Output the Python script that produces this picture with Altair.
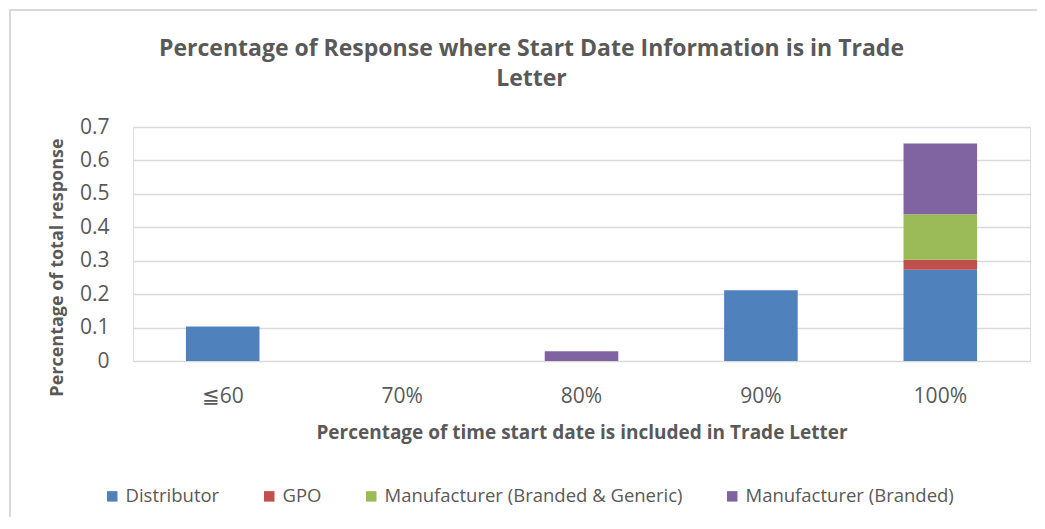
import altair as alt
import pandas as pd

categories = ["≦60", "70%", "80%", "90%", "100%"]
series = ["Distributor", "GPO", "Manufacturer (Branded & Generic)", "Manufacturer (Branded)"]
distributor = [0.103, 0.0, 0.0, 0.212, 0.273]
gpo = [0.0, 0.0, 0.0, 0.0, 0.030]
mfr_bg = [0.0, 0.0, 0.0, 0.0, 0.136]
mfr_b = [0.0, 0.0, 0.029, 0.0, 0.212]
colors = ["#4f81bd", "#c0504d", "#9bbb59", "#8064a2"]

rows = []
for si, (name, vals) in enumerate(zip(series, [distributor, gpo, mfr_bg, mfr_b])):
    for c, v in zip(categories, vals):
        rows.append({"cat": c, "series": name, "value": v, "order": si})
df = pd.DataFrame(rows)

FONT = "Open Sans"
GRAY = "#595959"

bars = alt.Chart(df).mark_bar().encode(
    x=alt.X("cat:N", sort=categories,
            scale=alt.Scale(paddingInner=0.59, paddingOuter=0.295),
            axis=alt.Axis(title="Percentage of time start date is included in Trade Letter",
                          labelAngle=0, labelFontSize=21, labelColor=GRAY, labelFont=FONT,
                          labelPadding=24, ticks=False, domain=False,
                          titleFont=FONT, titleFontSize=19, titleFontWeight="bold",
                          titleColor=GRAY, titlePadding=17)),
    y=alt.Y("value:Q", stack="zero",
            scale=alt.Scale(domain=[0, 0.7], nice=False),
            axis=alt.Axis(title="Percentage of total response", values=[0, 0.1, 0.2, 0.3, 0.4, 0.5, 0.6, 0.7],
                          format="~g", labelFontSize=21, labelColor=GRAY, labelFont=FONT,
                          labelPadding=24, ticks=False, domain=False,
                          gridColor="#d9d9d9", gridWidth=1.5,
                          titleFont=FONT, titleFontSize=18, titleFontWeight="bold",
                          titleColor=GRAY, titlePadding=13, titleY=140)),
    color=alt.Color("series:N", sort=series,
                    scale=alt.Scale(domain=series, range=colors),
                    legend=alt.Legend(title=None, orient="none", legendX=-30, legendY=360,
                                      direction="horizontal", columns=4,
                                      symbolType="square", symbolSize=110, symbolStrokeWidth=0,
                                      labelFont=FONT, labelFontSize=18.5, labelColor=GRAY,
                                      columnPadding=40, labelLimit=400)),
    order=alt.Order("order:Q"),
)

one = pd.DataFrame({"k": [0]})
top_edge = alt.Chart(one).mark_rule(color="#d9d9d9", strokeWidth=2).encode(
    x=alt.value(-124), x2=alt.value(905), y=alt.value(-117))
left_edge = alt.Chart(one).mark_rule(color="#d9d9d9", strokeWidth=2).encode(
    x=alt.value(-123), y=alt.value(-118), y2=alt.value(390))

chart = alt.layer(top_edge, left_edge, bars).properties(
    width=897, height=234,
    autosize=alt.AutoSizeParams(type="none"),
    padding={"left": 125, "top": 119, "right": 7, "bottom": 160},
    title=alt.TitleParams(
        text=["Percentage of Response where Start Date Information is in Trade", "Letter"],
        font=FONT, fontSize=23, fontWeight="bold", color=GRAY,
        anchor="middle", dx=-50, offset=24, dy=107, lineHeight=30),
).configure_view(stroke=None).configure(background="white")

chart.save("out.html", embed_options={"renderer": "svg", "actions": False})
